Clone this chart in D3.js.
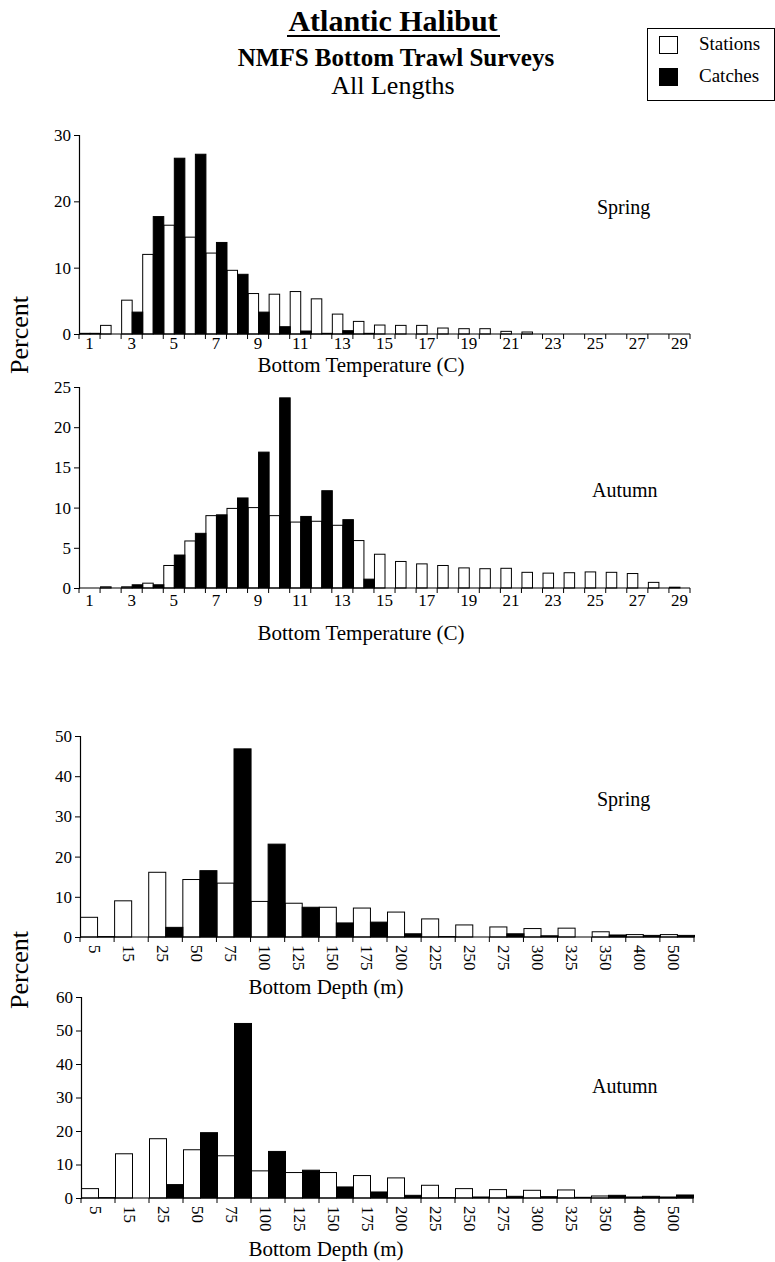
<!DOCTYPE html>
<html>
<head>
<meta charset="utf-8">
<script src="https://cdn.jsdelivr.net/npm/d3@7/dist/d3.min.js"></script>
<style>
  html, body { margin: 0; padding: 0; background: #fff; }
  svg { display: block; }
  text { font-family: "Liberation Serif", "Times New Roman", serif; fill: #000; }
</style>
</head>
<body>
<svg id="chart" width="775" height="1262"></svg>
<script>
// ---------- DATA ----------
const tempCategories = [1,2,3,4,5,6,7,8,9,10,11,12,13,14,15,16,17,18,19,20,21,22,23,24,25,26,27,28,29];
const tempTickLabels = [1,3,5,7,9,11,13,15,17,19,21,23,25,27,29];

const springTempStations = [0.1,1.3,5.1,12.0,16.4,14.6,12.2,9.6,6.1,6.0,6.4,5.3,3.0,1.9,1.35,1.3,1.3,0.9,0.8,0.8,0.4,0.3,0,0,0,0,0,0,0];
const springTempCatches  = [0.1,0,3.3,17.7,26.5,27.1,13.8,9.0,3.3,1.1,0.45,0.1,0.5,0.1,0,0,0,0,0,0,0,0,0,0,0,0,0,0,0];

const autumnTempStations = [0,0.15,0.15,0.6,2.8,5.85,9.0,9.9,10.0,9.0,8.2,8.3,7.8,5.9,4.2,3.3,3.0,2.8,2.5,2.4,2.45,1.95,1.85,1.9,2.0,1.95,1.8,0.7,0.1];
const autumnTempCatches  = [0,0,0.4,0.4,4.1,6.8,9.1,11.2,16.9,23.65,8.9,12.1,8.5,1.1,0,0,0,0,0,0,0,0,0,0,0,0,0,0,0];

const depthCategories = ["5","15","25","50","75","100","125","150","175","200","225","250","275","300","325","350","400","500"];

const springDepthStations = [4.9,9.0,16.1,14.3,13.4,8.85,8.4,7.4,7.2,6.2,4.5,3.0,2.5,2.1,2.2,1.3,0.6,0.6];
const springDepthCatches  = [0.1,0,2.4,16.5,46.8,23.1,7.4,3.5,3.7,0.8,0.1,0,0.8,0.3,0,0.5,0.4,0.4];

const autumnDepthStations = [2.8,13.2,17.7,14.4,12.6,8.1,7.6,7.6,6.7,6.0,3.8,2.8,2.5,2.3,2.4,0.6,0.3,0.3];
const autumnDepthCatches  = [0.1,0,4.0,19.5,52.1,13.9,8.3,3.3,1.8,0.8,0.1,0.3,0.5,0.4,0.2,0.8,0.5,0.9];

const yTicksSpringTemp = [0,10,20,30];
const yTicksAutumnTemp = [0,5,10,15,20,25];
const yTicksSpringDepth = [0,10,20,30,40,50];
const yTicksAutumnDepth = [0,10,20,30,40,50,60];

// ---------- LAYOUT ----------
const svg = d3.select("#chart");

const panels = [
  {cats: tempCategories, labels: tempTickLabels, st: springTempStations, ca: springTempCatches,
   yTicks: yTicksSpringTemp, x0: 79, x1: 690, yb: 334, yt: 135, rotated: false,
   season: "Spring", sx: 597, sy: 214, title: "Bottom Temperature (C)", tx: 361, ty: 372, ly: 349},
  {cats: tempCategories, labels: tempTickLabels, st: autumnTempStations, ca: autumnTempCatches,
   yTicks: yTicksAutumnTemp, x0: 79, x1: 690, yb: 588, yt: 387, rotated: false,
   season: "Autumn", sx: 592, sy: 497, title: "Bottom Temperature (C)", tx: 361, ty: 640, ly: 606},
  {cats: depthCategories, labels: depthCategories, st: springDepthStations, ca: springDepthCatches,
   yTicks: yTicksSpringDepth, x0: 80, x1: 694, yb: 937, yt: 736, rotated: true,
   season: "Spring", sx: 597, sy: 806, title: "Bottom Depth (m)", tx: 326, ty: 994},
  {cats: depthCategories, labels: depthCategories, st: autumnDepthStations, ca: autumnDepthCatches,
   yTicks: yTicksAutumnDepth, x0: 81, x1: 693, yb: 1198, yt: 997, rotated: true,
   season: "Autumn", sx: 592, sy: 1093, title: "Bottom Depth (m)", tx: 326, ty: 1256}
];

panels.forEach(p => {
  const g = svg.append("g");
  const yMax = d3.max(p.yTicks);
  const x = d3.scaleBand().domain(p.cats).range([p.x0, p.x1]).paddingInner(0).paddingOuter(0);
  const y = d3.scaleLinear().domain([0, yMax]).range([p.yb, p.yt]);
  const bw = x.bandwidth();

  // bars: stations (white, left half) and catches (black, right half)
  g.selectAll("rect.st").data(p.cats).join("rect")
    .attr("x", c => x(c) + 0.5)
    .attr("y", (c, i) => y(p.st[i]))
    .attr("width", bw / 2)
    .attr("height", (c, i) => p.yb - y(p.st[i]))
    .attr("fill", "#fff").attr("stroke", "#000").attr("stroke-width", 1);
  g.selectAll("rect.ca").data(p.cats).join("rect")
    .attr("x", c => x(c) + bw / 2 + 0.5)
    .attr("y", (c, i) => y(p.ca[i]))
    .attr("width", bw / 2)
    .attr("height", (c, i) => p.yb - y(p.ca[i]))
    .attr("fill", "#000").attr("stroke", "#000").attr("stroke-width", 1);

  // y axis
  const ya = d3.axisLeft(y).tickValues(p.yTicks).tickSize(5).tickPadding(3).tickFormat(d3.format("d"));
  const yg = g.append("g").attr("transform", `translate(${p.x0},0)`).call(ya);
  yg.select(".domain").attr("stroke", "#000").attr("stroke-width", 1.2);
  yg.selectAll("text").style("font-size", "17px").style("font-family", "Liberation Serif");

  // x axis line
  g.append("line").attr("x1", p.x0).attr("x2", p.x1).attr("y1", p.yb).attr("y2", p.yb)
    .attr("stroke", "#000").attr("stroke-width", 1.2);
  // tick marks at band boundaries
  const bounds = p.cats.map(c => x(c)).concat([x(p.cats[p.cats.length - 1]) + bw]);
  g.selectAll("line.tk").data(bounds).join("line")
    .attr("x1", d => d).attr("x2", d => d).attr("y1", p.yb).attr("y2", p.yb + 5)
    .attr("stroke", "#000").attr("stroke-width", 1);

  // tick labels
  if (!p.rotated) {
    g.selectAll("text.xl").data(p.labels).join("text")
      .attr("x", d => x(d) + bw / 2).attr("y", p.ly)
      .attr("text-anchor", "middle").style("font-size", "17px").text(d => d);
  } else {
    g.selectAll("text.xl").data(p.labels).join("text")
      .attr("transform", d => `translate(${x(d) + bw / 2 - 3},${p.yb + 8}) rotate(90)`)
      .attr("dominant-baseline", "central")
      .attr("text-anchor", "start").style("font-size", "17px").text(d => d);
  }

  // axis title
  g.append("text").attr("x", p.tx).attr("y", p.ty).attr("text-anchor", "middle")
    .style("font-size", "21px").text(p.title);

  // season label
  g.append("text").attr("x", p.sx).attr("y", p.sy).style("font-size", "20px").text(p.season);
});

// "Percent" labels
[[28, 335], [28, 970]].forEach(([px, py]) => {
  svg.append("text").attr("transform", `translate(${px},${py}) rotate(-90)`)
    .attr("text-anchor", "middle").style("font-size", "26px").text("Percent");
});

// Titles
svg.append("text").attr("x", 393).attr("y", 31).attr("text-anchor", "middle")
  .style("font-size", "30px").style("font-weight", "bold").text("Atlantic Halibut");
svg.append("line").attr("x1", 287).attr("x2", 500).attr("y1", 36).attr("y2", 36)
  .attr("stroke", "#000").attr("stroke-width", 2.2);
svg.append("text").attr("x", 396).attr("y", 66).attr("text-anchor", "middle")
  .style("font-size", "25px").style("font-weight", "bold").text("NMFS Bottom Trawl Surveys");
svg.append("text").attr("x", 393).attr("y", 94).attr("text-anchor", "middle")
  .style("font-size", "26px").text("All Lengths");

// Legend
const legendItems = ["Stations", "Catches"];
const legendFills = ["#fff", "#000"];
const lg = svg.append("g");
lg.append("rect").attr("x", 647.5).attr("y", 28.5).attr("width", 127).attr("height", 72)
  .attr("fill", "none").attr("stroke", "#000").attr("stroke-width", 1);
legendItems.forEach((t, i) => {
  lg.append("rect").attr("x", 659.5).attr("y", 36.5 + i * 32).attr("width", 18).attr("height", 17)
    .attr("fill", legendFills[i]).attr("stroke", "#000").attr("stroke-width", 1);
  lg.append("text").attr("x", 699).attr("y", 50 + i * 32).style("font-size", "19px").text(t);
});
</script>
</body>
</html>
